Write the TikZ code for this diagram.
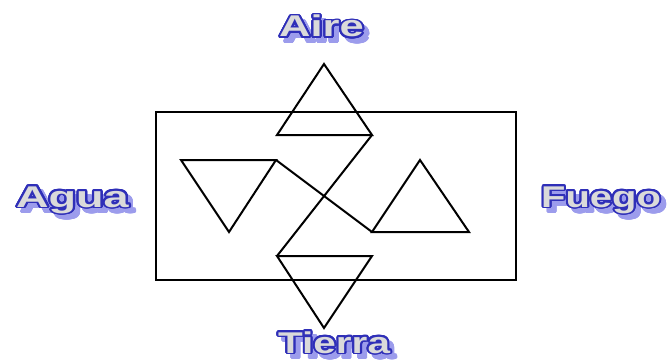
\documentclass[tikz,border=0pt]{standalone}
\usepackage{fontspec}
\setmainfont{Liberation Sans}
\usepackage[copies]{contour}
\contourlength{1.5pt}
\contournumber{24}
\definecolor{outl}{HTML}{2F2FB8}
\definecolor{fillg}{HTML}{DADADA}
\definecolor{shad}{HTML}{9C9CEC}
\newcommand\wordart[2]{\scalebox{#1}[1]{\contour{outl}{\textcolor{fillg}{#2}}}}
\newcommand\wordshadow[2]{\scalebox{#1}[1]{\contour{shad}{\textcolor{shad}{#2}}}}
\tikzset{
  lbl/.style={anchor=base west, inner sep=0pt, font=\bfseries\fontsize{30}{30}\selectfont},
  shape line/.style={line width=2pt, line join=miter}
}
\begin{document}
\begin{tikzpicture}[x=1pt,y=-1pt]
\useasboundingbox (0,0) rectangle (670,361);
% frame
\draw[shape line] (156,112) rectangle (516,280);
% coordinates
\coordinate (tA) at (324,64);
\coordinate (tL) at (277,135);
\coordinate (tR) at (372,135);
\coordinate (lL) at (181,160);
\coordinate (lR) at (276,160);
\coordinate (lB) at (229,232);
\coordinate (rT) at (420,160);
\coordinate (rL) at (372,232);
\coordinate (rR) at (469,232);
\coordinate (bL) at (277,256);
\coordinate (bR) at (372,256);
\coordinate (bB) at (324,328);
% triangles
\draw[shape line] (tA) -- (tR) -- (tL) -- cycle;
\draw[shape line] (lL) -- (lR) -- (lB) -- cycle;
\draw[shape line] (rT) -- (rR) -- (rL) -- cycle;
\draw[shape line] (bL) -- (bR) -- (bB) -- cycle;
% connecting arms
\draw[shape line] (tR) -- (bL);
\draw[shape line] (lR) -- (rL);
% labels: shadows
\node[lbl] (aireS) at (284,42) {\wordshadow{1.45}{Aire}};
\node[lbl] (aguaS) at (21,212) {\wordshadow{1.5}{Agua}};
\node[lbl] (fuegoS) at (546,212) {\wordshadow{1.33}{Fuego}};
\node[lbl] (tierraS) at (283,358) {\wordshadow{1.35}{Tierra}};
% labels
\node[lbl] (aire) at (279,37) {\wordart{1.45}{Aire}};
\node[lbl] (agua) at (16,207) {\wordart{1.5}{Agua}};
\node[lbl] (fuego) at (541,207) {\wordart{1.33}{Fuego}};
\node[lbl] (tierra) at (278,353) {\wordart{1.35}{Tierra}};
\end{tikzpicture}
\end{document}
